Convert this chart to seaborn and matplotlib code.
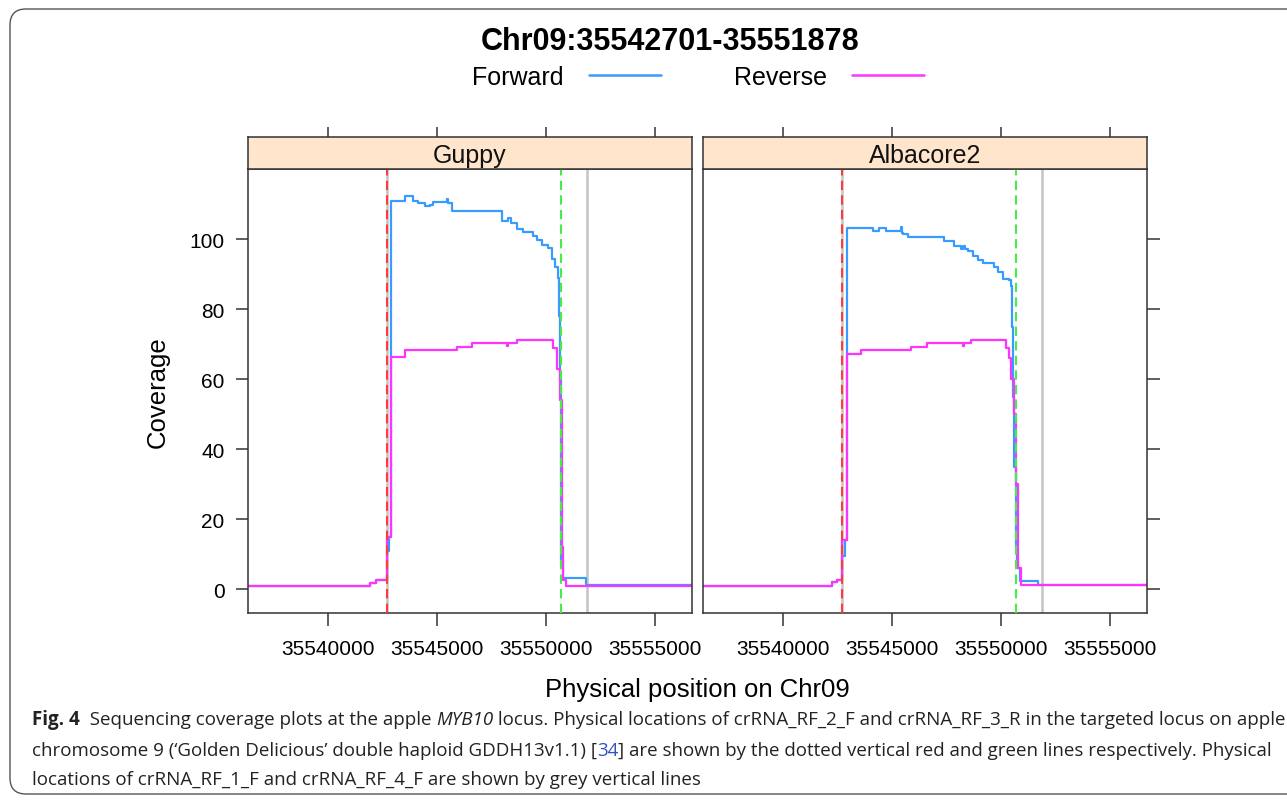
import numpy as np
import pandas as pd
import seaborn as sns
import matplotlib.pyplot as plt
from matplotlib.lines import Line2D
from matplotlib.patches import FancyBboxPatch
from matplotlib.font_manager import FontProperties
from matplotlib.transforms import IdentityTransform

W, H, DPI = 1287, 803, 100

panels = ["Guppy", "Albacore2"]
strands = ["Forward", "Reverse"]
region_title = "Chr09:35542701-35551878"
x_ticks = [35540000, 35545000, 35550000, 35555000]
y_ticks = [0, 20, 40, 60, 80, 100]

# crRNA sites: grey = RF_1_F / RF_4_F, red = RF_2_F, green = RF_3_R
grey_sites = [35542701, 35551878]
red_site = 35542720
green_site = 35550700

# coverage (value holds from each position onward)
guppy_fwd_pos = [35536330, 35541930, 35542200, 35542706, 35542800, 35542890, 35543530,
                 35543900, 35544130, 35544450, 35544700, 35544816, 35545460, 35545520,
                 35545690, 35547980, 35548260, 35548400, 35548670, 35548945, 35549400,
                 35549590, 35549820, 35550090, 35550280, 35550410, 35550550, 35550590,
                 35550630, 35550670, 35550710, 35550780, 35551840, 35556700]
guppy_fwd_cov = [1, 1.7, 2.7, 11, 15, 111, 112.3,
                 111, 110.3, 109.3, 109.8, 110.5, 111.5, 110.3,
                 108, 105.2, 105.9, 104.5, 102.8, 102.1, 101,
                 99.6, 98.4, 97.3, 94.3, 92, 89, 78,
                 60, 35, 8, 3.1, 1.2, 1.2]

guppy_rev_pos = [35536330, 35541930, 35542200, 35542706, 35542890, 35543530, 35545920,
                 35546600, 35548200, 35548260, 35548670, 35550321, 35550504, 35550640,
                 35550720, 35550760, 35550900, 35556700]
guppy_rev_cov = [1, 1.7, 2.7, 15, 66.4, 68.2, 69.1,
                 70.4, 69.5, 70.4, 71.3, 69, 63, 54,
                 12, 2.7, 1.05, 1.05]

alba_fwd_pos = [35536330, 35542230, 35542460, 35542722, 35542830, 35542918, 35544150,
                35544420, 35544740, 35545420, 35545470, 35545520, 35545750, 35547390,
                35547840, 35548160, 35548260, 35548340, 35548480, 35548710, 35548940,
                35549170, 35549670, 35549850, 35550080, 35550350, 35550440, 35550500,
                35550560, 35550620, 35550680, 35550750, 35550890, 35551720, 35556700]
alba_fwd_cov = [1, 2, 2.5, 9.4, 14, 103.1, 102.2,
                103.1, 102.2, 103.5, 101.8, 101.4, 100.5, 99.5,
                98.1, 97.2, 98, 97.2, 96.7, 95.2, 94.1,
                93.2, 91.9, 90.5, 88.6, 88.2, 86.7, 75,
                55, 35, 12, 6, 2.2, 1.1, 1.1]

alba_rev_pos = [35536330, 35542230, 35542460, 35542722, 35542918, 35543600, 35545880,
                35546610, 35548240, 35548300, 35548620, 35550214, 35550350, 35550442,
                35550579, 35550670, 35550760, 35550900, 35556700]
alba_rev_cov = [1, 2, 2.5, 14, 67.2, 68.2, 69.1,
                70.4, 69.5, 70.4, 71.3, 69, 66, 60,
                50, 30, 6, 1.1, 1.1]

series = {
    ("Guppy", "Forward"): (guppy_fwd_pos, guppy_fwd_cov),
    ("Guppy", "Reverse"): (guppy_rev_pos, guppy_rev_cov),
    ("Albacore2", "Forward"): (alba_fwd_pos, alba_fwd_cov),
    ("Albacore2", "Reverse"): (alba_rev_pos, alba_rev_cov),
}
frames = []
for (panel, strand), (pos, cov) in series.items():
    frames.append(pd.DataFrame({"panel": panel, "strand": strand,
                                "position": pos, "coverage": cov}))
df = pd.concat(frames, ignore_index=True)

palette = {"Forward": "#3a9bff", "Reverse": "#ff33ff"}

sns.set_theme(style="white")
plt.rcParams["font.family"] = ["Liberation Sans", "DejaVu Sans"]
plt.rcParams["axes.edgecolor"] = "#333333"
plt.rcParams["axes.linewidth"] = 1.1
plt.rcParams["text.color"] = "black"
plt.rcParams["xtick.labelcolor"] = "black"
plt.rcParams["ytick.labelcolor"] = "black"

fig = plt.figure(figsize=(W / DPI, H / DPI), dpi=DPI)
fig.patch.set_facecolor("white")

# outer rounded frame of the journal figure
frame = FancyBboxPatch((10, 8), 1320, 785, boxstyle="round,pad=0,rounding_size=16",
                       transform=IdentityTransform(), facecolor="none",
                       edgecolor="#555555", linewidth=1.0)
fig.patches.append(frame)

panel_left = [248, 703]
panel_w = 444
panel_top, panel_bot, strip_top = 170, 614, 138
xlim = (35536330, 35556700)
ylim = (-6.8, 120)

for i, name in enumerate(panels):
    x0 = panel_left[i] / W
    ax = fig.add_axes([x0, 1 - panel_bot / H, panel_w / W, (panel_bot - panel_top) / H])
    sax = fig.add_axes([x0, 1 - panel_top / H, panel_w / W, (panel_top - strip_top) / H])

    for g in grey_sites:
        ax.axvline(g, color="#c4c4c4", lw=1.8, zorder=1)
    sub = df[df["panel"] == name]
    sns.lineplot(data=sub, x="position", y="coverage", hue="strand", hue_order=strands,
                 palette=palette, drawstyle="steps-post", estimator=None, sort=False,
                 legend=False, lw=1.6, ax=ax)
    ax.axvline(red_site, color="#ff3b3b", lw=1.5, ls=(0, (4.5, 2.5)), zorder=4)
    ax.axvline(green_site, color="#48ec48", lw=1.5, ls=(0, (4.5, 2.5)), zorder=4)

    ax.set_xlim(xlim)
    ax.set_ylim(ylim)
    ax.set_xlabel("")
    ax.set_ylabel("")
    ax.set_xticks(x_ticks)
    ax.set_xticklabels([str(t) for t in x_ticks])
    ax.set_yticks(y_ticks)
    ax.set_yticklabels([str(t) for t in y_ticks])
    ax.tick_params(axis="x", bottom=True, direction="out", length=9.5, width=1.1,
                   color="#333333", pad=9.5, labelsize=15)
    if i == 0:
        ax.tick_params(axis="y", left=True, right=False, labelleft=True, direction="out",
                       length=9, width=1.1, color="#333333", pad=8, labelsize=15)
    else:
        ax.tick_params(axis="y", left=False, right=True, labelleft=False, labelright=False,
                       direction="out", length=9, width=1.1, color="#333333")
    for sp in ax.spines.values():
        sp.set_color("#333333")

    # lattice-style strip with the ticks on top
    sax.set_xlim(xlim)
    sax.set_facecolor("#ffe5cc")
    sax.set_yticks([])
    sax.set_xticks(x_ticks)
    sax.xaxis.tick_top()
    sax.tick_params(axis="x", top=True, bottom=False, labeltop=False, labelbottom=False,
                    direction="out", length=7.5, width=1.1, color="#333333")
    for sp in sax.spines.values():
        sp.set_color("#333333")
    sax.text(0.5, 0.45, name, transform=sax.transAxes, ha="center", va="center",
             fontsize=18, color="#111111")

fig.text(670 / W, 1 - 42 / H, region_title, ha="center", va="center",
         fontsize=22, fontweight="bold", color="black")
handles = [Line2D([], [], color=palette[s], lw=1.8) for s in strands]
fig.legend(handles, strands, loc="center", bbox_to_anchor=(698 / W, 1 - 78 / H),
           ncol=2, frameon=False, markerfirst=False, fontsize=18, handlelength=2.9,
           handletextpad=1.0, columnspacing=2.9)

fig.text(158 / W, 1 - 392 / H, "Coverage", rotation=90, ha="center", va="center",
         fontsize=18.5)
fig.text(697 / W, 1 - 690 / H, "Physical position on Chr09", ha="center", va="center",
         fontsize=18.5)

# caption, drawn run by run so bold / italic / link colour can mix
cap_font = ["Open Sans", "DejaVu Sans"]
cap_lines = [
    [("Fig. 4", "bold"), ("  Sequencing coverage plots at the apple ", "normal"),
     ("MYB10", "italic"),
     (" locus. Physical locations of crRNA_RF_2_F and crRNA_RF_3_R in the targeted locus on apple", "normal")],
    [("chromosome 9 (\u2018Golden Delicious\u2019 double haploid GDDH13v1.1) [", "normal"),
     ("34", "link"),
     ("] are shown by the dotted vertical red and green lines respectively. Physical", "normal")],
    [("locations of crRNA_RF_1_F and crRNA_RF_4_F are shown by grey vertical lines", "normal")],
]
cap_y = [720, 751, 780]
renderer = fig.canvas.get_renderer()


def run_prop(kind, size):
    return FontProperties(family=cap_font, size=size,
                          weight="bold" if kind == "bold" else "normal",
                          style="italic" if kind == "italic" else "normal")


def run_width(text, prop):
    w1, _, _ = renderer.get_text_width_height_descent("|" + text + "|", prop, ismath=False)
    w0, _, _ = renderer.get_text_width_height_descent("||", prop, ismath=False)
    return w1 - w0


base = 12.0
total = sum(run_width(t, run_prop(k, base)) for t, k in cap_lines[0])
cap_size = base * 1246 / total

for line, yy in zip(cap_lines, cap_y):
    xx = 32.0
    for text, kind in line:
        prop = run_prop(kind, cap_size)
        fig.text(xx / W, 1 - yy / H, text, fontproperties=prop, ha="left", va="center",
                 color="#2f55c4" if kind == "link" else "#222222")
        xx += run_width(text, prop)

fig.savefig("out.png", dpi=DPI, facecolor="white")
